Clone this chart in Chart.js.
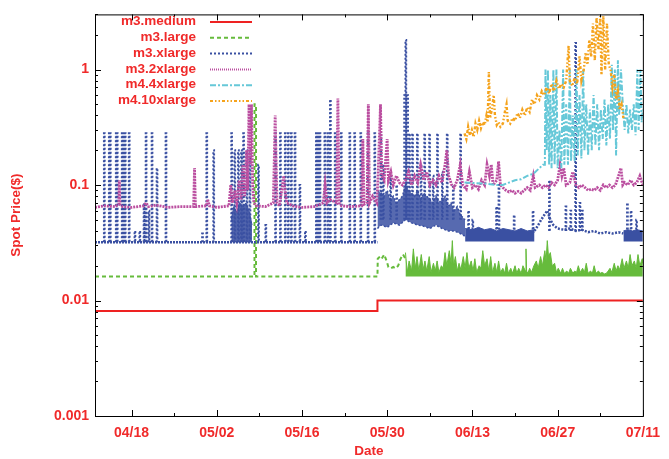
<!DOCTYPE html>
<html>
<head>
<meta charset="utf-8">
<script src="https://cdn.jsdelivr.net/npm/chart.js@4.4.1/dist/chart.umd.min.js"></script>
<style>
  html, body { margin: 0; padding: 0; background: #fff; }
  #wrap { width: 669px; height: 459px; }
</style>
</head>
<body>
<div id="wrap"><canvas id="spot" width="669" height="459"></canvas></div>
<script>
// x = days since 04/12, y = spot price in $
const dayTicks = [6, 20, 34, 48, 62, 76, 90];
const dateLabels = ['04/18', '05/02', '05/16', '05/30', '06/13', '06/27', '07/11'];
const weekMinors = [13, 27, 41, 55, 69, 83];
const priceTicks = [0.001, 0.01, 0.1, 1];
const priceLabels = ['0.001', '0.01', '0.1', '1'];
const seriesNames = ['m3.medium', 'm3.large', 'm3.xlarge', 'm3.2xlarge', 'm4.4xlarge', 'm4.10xlarge'];

// m3.medium
const medium = [[0, 0.0081], [46.4, 0.0081], [46.4, 0.01], [90, 0.01]];

// m3.large - flat line, one jump, then a busy stretch
const largeLine = [[0, 0.0161], [26.2, 0.0161], [26.2, 0.5], [26.45, 0.5], [26.45, 0.0161], [46.4, 0.0161],
  [46.45, 0.023], [46.8, 0.024], [47.1, 0.023], [47.5, 0.025], [47.9, 0.022], [48.2, 0.0195], [48.6, 0.019],
  [49.0, 0.0195], [49.4, 0.019], [49.8, 0.02], [50.2, 0.023], [50.6, 0.025], [51.0, 0.023]];
const largeTops = [[51.0, 0.026], [51.3, 0.0175], [51.6, 0.022], [52.0, 0.018], [52.3, 0.028], [52.6, 0.019],
  [52.9, 0.024], [53.2, 0.018], [53.6, 0.025], [53.9, 0.0185], [54.2, 0.022], [54.5, 0.018], [54.9, 0.024],
  [55.2, 0.0175], [55.6, 0.021], [55.9, 0.018], [56.2, 0.022], [56.5, 0.0175], [56.9, 0.02], [57.2, 0.019],
  [57.5, 0.026], [57.8, 0.02], [58.2, 0.027], [58.5, 0.021], [58.7, 0.033], [58.9, 0.02], [59.2, 0.024],
  [59.5, 0.018], [59.8, 0.021], [60.1, 0.0185], [60.5, 0.024], [60.8, 0.019], [61.1, 0.026], [61.4, 0.019],
  [61.8, 0.022], [62.1, 0.018], [62.4, 0.023], [62.7, 0.0175], [63.1, 0.02], [63.4, 0.019], [63.7, 0.027],
  [64.0, 0.02], [64.4, 0.023], [64.7, 0.018], [65.0, 0.024], [65.3, 0.0175], [65.7, 0.021], [66.0, 0.0175],
  [66.3, 0.022], [66.6, 0.0175], [67.0, 0.019], [67.3, 0.0172], [67.6, 0.021], [67.9, 0.0172], [68.3, 0.019],
  [68.6, 0.0172], [69.0, 0.02], [69.3, 0.0172], [69.6, 0.019], [70.0, 0.0172], [70.3, 0.02], [70.7, 0.018],
  [70.8, 0.028], [70.9, 0.018], [71.1, 0.0172], [71.4, 0.019], [71.7, 0.0175], [72.1, 0.02], [72.5, 0.022],
  [72.8, 0.019], [73.2, 0.024], [73.5, 0.02], [73.9, 0.027], [74.1, 0.022], [74.3, 0.033], [74.5, 0.024],
  [74.8, 0.026], [75.1, 0.02], [75.5, 0.021], [75.8, 0.0175], [76.1, 0.019], [76.5, 0.0172], [76.8, 0.019],
  [77.1, 0.0172], [77.5, 0.018], [77.8, 0.0172], [78.1, 0.019], [78.5, 0.0172], [78.8, 0.018], [79.1, 0.0175],
  [79.4, 0.02], [79.7, 0.0175], [80.1, 0.019], [80.4, 0.0175], [80.7, 0.021], [81.0, 0.0172], [81.4, 0.018],
  [81.7, 0.0172], [82.0, 0.02], [82.3, 0.0172], [82.7, 0.018], [83.0, 0.0172], [83.3, 0.0175], [83.7, 0.017],
  [84.0, 0.0172], [84.3, 0.018], [84.6, 0.019], [84.9, 0.0175], [85.3, 0.021], [85.6, 0.018], [85.9, 0.02],
  [86.2, 0.0185], [86.6, 0.023], [86.9, 0.019], [87.3, 0.022], [87.6, 0.019], [87.9, 0.025], [88.2, 0.02],
  [88.6, 0.022], [88.9, 0.019], [89.2, 0.025], [89.5, 0.02], [89.9, 0.023], [90, 0.021]];

// m3.xlarge
const xlargeBase = [[0, 0.032], [46.4, 0.032]];
const xlargeBurst = [[22.4, 0.05], [22.8, 0.065], [23.3, 0.058], [23.8, 0.07], [24.3, 0.064], [24.8, 0.07], [25.3, 0.06], [25.8, 0.045]];
const xlargeCloudLow = [[46.4, 0.042], [47, 0.045], [48, 0.043], [49, 0.047], [50, 0.045], [51, 0.05], [52, 0.047],
  [53, 0.045], [54, 0.044], [55, 0.042], [56, 0.045], [57, 0.042], [58, 0.04], [59, 0.04], [60, 0.038], [60.8, 0.036]];
const xlargeCloudHigh = [[46.4, 0.09], [47, 0.085], [47.5, 0.08], [48, 0.09], [48.5, 0.075], [49, 0.08], [49.5, 0.07],
  [50, 0.075], [50.5, 0.08], [51, 0.1], [51.5, 0.09], [52, 0.085], [52.5, 0.08], [53, 0.09], [53.5, 0.075],
  [54, 0.085], [54.5, 0.08], [55, 0.075], [55.5, 0.07], [56, 0.08], [56.5, 0.07], [57, 0.075], [57.5, 0.08],
  [58, 0.065], [58.5, 0.07], [59, 0.06], [59.5, 0.065], [60, 0.055], [60.8, 0.05]];
const xlargeBlock = [[60.8, 0.042], [62, 0.041], [63, 0.043], [64, 0.041], [65, 0.042], [66, 0.04], [67, 0.042],
  [68, 0.041], [69, 0.04], [70, 0.042], [71, 0.04], [72.2, 0.041]];
const xlargeTail = [[72.2, 0.04], [72.8, 0.045], [73.3, 0.05], [73.8, 0.055], [74.3, 0.06], [74.8, 0.05],
  [75.3, 0.045], [76, 0.042], [77, 0.041], [78, 0.042], [79, 0.04], [80, 0.041], [81, 0.039], [82, 0.04],
  [83, 0.038], [84, 0.039], [85, 0.038], [86, 0.039], [86.8, 0.038]];
const xlargeEnd = [[86.8, 0.04], [87.5, 0.041], [88.3, 0.04], [89, 0.041], [90, 0.04]];
// [day, peak, level it jumps from]
const xlargeSpikes = [
  [1.47, 0.28, 0.032], [2.29, 0.28, 0.032], [2.45, 0.28, 0.032], [3.43, 0.28, 0.032], [3.59, 0.28, 0.032],
  [4.41, 0.28, 0.032], [4.58, 0.28, 0.032], [4.9, 0.28, 0.032], [5.56, 0.28, 0.032], [6.5, 0.04, 0.032],
  [7.3, 0.04, 0.032], [8.0, 0.07, 0.032], [8.33, 0.28, 0.032], [8.8, 0.06, 0.032], [9.31, 0.28, 0.032],
  [10.13, 0.14, 0.032], [11.6, 0.28, 0.032], [17.6, 0.038, 0.032], [18.3, 0.28, 0.032], [19.44, 0.2, 0.032],
  [22.39, 0.28, 0.032], [22.9, 0.2, 0.032], [23.5, 0.2, 0.032], [24.0, 0.2, 0.032], [24.35, 0.28, 0.032],
  [24.9, 0.2, 0.032], [25.4, 0.2, 0.032], [26.8, 0.15, 0.032], [28.0, 0.045, 0.032], [29.6, 0.28, 0.032],
  [30.4, 0.28, 0.032], [31.2, 0.28, 0.032], [31.7, 0.28, 0.032], [32.2, 0.28, 0.032], [32.8, 0.28, 0.032],
  [33.6, 0.1, 0.032], [34.5, 0.04, 0.032], [36.3, 0.28, 0.032], [36.6, 0.28, 0.032], [36.9, 0.28, 0.032],
  [37.7, 0.28, 0.032], [38.2, 0.28, 0.032], [38.6, 0.55, 0.032], [39.4, 0.28, 0.032], [40.4, 0.28, 0.032],
  [41.8, 0.28, 0.032], [42.6, 0.28, 0.032], [43.6, 0.28, 0.032], [44.8, 0.28, 0.032], [45.9, 0.28, 0.032],
  [46.9, 0.28, 0.05], [47.3, 0.15, 0.05], [48.5, 0.12, 0.05], [49.5, 0.1, 0.05], [50.8, 0.6, 0.05],
  [51.0, 1.8, 0.05], [51.3, 0.6, 0.05], [51.6, 0.28, 0.05], [52.1, 0.28, 0.05], [52.9, 0.28, 0.05],
  [53.5, 0.15, 0.05], [54.1, 0.28, 0.05], [54.9, 0.28, 0.05], [55.5, 0.12, 0.05], [56.2, 0.28, 0.05],
  [57.0, 0.13, 0.05], [57.8, 0.28, 0.05], [58.8, 0.1, 0.05], [60.0, 0.28, 0.05],
  [61.3, 0.06, 0.038], [62.0, 0.05, 0.038], [65.9, 0.065, 0.038], [66.3, 0.1, 0.038], [68.8, 0.055, 0.038],
  [71.9, 0.06, 0.038], [74.6, 0.11, 0.04], [77.3, 0.065, 0.04], [78.1, 0.06, 0.04], [78.9, 1.7, 0.04],
  [79.6, 0.07, 0.04], [80.0, 0.06, 0.04], [87.4, 0.07, 0.038], [88.0, 0.06, 0.038], [88.9, 0.05, 0.038]];

// m3.2xlarge
const x2large = [[0, 0.064], [1.5, 0.066], [3.3, 0.065], [3.9, 0.068], [4.0, 0.11], [4.1, 0.068], [4.5, 0.065],
  [6, 0.064], [8, 0.066], [8.4, 0.07], [8.8, 0.065], [10, 0.067], [12, 0.064], [14, 0.065], [16.2, 0.065],
  [16.35, 0.14], [16.5, 0.065], [18.3, 0.066], [18.5, 0.075], [18.8, 0.066], [20, 0.064], [22, 0.066],
  [22.3, 0.1], [22.6, 0.07], [23.0, 0.09], [23.3, 0.07], [23.7, 0.11], [24.0, 0.075], [24.3, 0.15],
  [24.6, 0.08], [24.9, 0.2], [25.1, 0.09], [25.3, 0.5], [25.5, 0.15], [25.7, 0.5], [25.9, 0.1], [26.1, 0.07],
  [26.5, 0.066], [28, 0.065], [29.3, 0.07], [29.6, 0.4], [29.9, 0.07], [30.3, 0.066], [30.8, 0.1], [31.0, 0.12],
  [31.2, 0.09], [31.5, 0.07], [32.5, 0.066], [34, 0.064], [36, 0.065], [37.5, 0.07], [37.8, 0.1], [38.1, 0.07],
  [38.6, 0.075], [39.7, 0.07], [39.9, 0.56], [40.1, 0.07], [40.5, 0.066], [42, 0.065], [43.8, 0.066],
  [44.0, 0.25], [44.2, 0.068], [44.7, 0.07], [44.9, 0.5], [45.1, 0.07], [45.6, 0.08], [46.3, 0.07],
  [46.5, 0.12], [46.9, 0.5], [47.1, 0.12], [47.5, 0.11], [48.0, 0.25], [48.2, 0.11], [48.6, 0.13], [49, 0.1],
  [49.5, 0.12], [50, 0.105], [50.5, 0.1], [51, 0.11], [51.5, 0.13], [52, 0.1], [52.5, 0.12], [53, 0.105],
  [53.5, 0.15], [54, 0.11], [54.5, 0.13], [55, 0.1], [55.5, 0.11], [56, 0.1], [56.5, 0.12], [57, 0.105],
  [57.5, 0.15], [57.8, 0.2], [58.1, 0.12], [58.6, 0.1], [59, 0.095], [59.5, 0.11], [60, 0.15], [60.4, 0.1],
  [61, 0.092], [61.5, 0.13], [62, 0.095], [62.5, 0.1], [63, 0.092], [63.5, 0.11], [64, 0.1], [64.4, 0.15],
  [64.8, 0.12], [65.1, 0.15], [65.4, 0.1], [66, 0.11], [66.3, 0.16], [66.6, 0.1], [67, 0.095], [67.5, 0.09],
  [68, 0.087], [68.5, 0.09], [69, 0.085], [69.5, 0.088], [70, 0.085], [70.5, 0.09], [71, 0.095], [71.5, 0.09],
  [72, 0.12], [72.3, 0.095], [73, 0.1], [73.5, 0.095], [74, 0.1], [74.5, 0.095], [75, 0.105], [75.5, 0.1],
  [76, 0.11], [76.4, 0.15], [76.7, 0.12], [77, 0.14], [77.4, 0.1], [78, 0.105], [78.5, 0.13], [79, 0.1],
  [79.5, 0.095], [80, 0.1], [80.5, 0.095], [81, 0.09], [81.5, 0.092], [82, 0.09], [82.5, 0.095], [83, 0.09],
  [83.5, 0.1], [84, 0.095], [84.5, 0.1], [85, 0.095], [85.5, 0.1], [86, 0.12], [86.4, 0.14], [86.7, 0.1],
  [87, 0.105], [87.5, 0.1], [88, 0.11], [88.5, 0.1], [89, 0.105], [89.5, 0.12], [90, 0.1]];

// m4.4xlarge
const x4large = [[60.7, 0.105], [62, 0.104], [64, 0.103], [66, 0.1], [67, 0.1], [68, 0.105], [69, 0.11],
  [70, 0.112], [71, 0.12], [72, 0.125], [73, 0.14], [73.6, 0.15],
  [73.9, 0.15], [74.0, 1.0], [74.2, 0.2], [74.4, 1.0], [74.6, 0.15], [74.8, 0.6], [75.0, 0.14], [75.3, 1.0],
  [75.5, 0.15], [75.8, 1.0], [76.0, 0.14], [76.3, 0.3], [76.6, 0.14], [76.9, 1.0], [77.1, 0.15], [77.4, 0.5],
  [77.7, 0.15], [78.0, 1.0], [78.2, 0.16], [78.5, 0.4], [78.8, 0.16], [79.1, 1.0], [79.3, 0.18], [79.6, 0.6],
  [79.9, 0.17], [80.2, 1.0], [80.4, 0.2], [80.7, 0.5], [81.0, 0.18], [81.3, 0.45], [81.6, 0.2], [81.9, 0.6],
  [82.2, 0.22], [82.5, 0.5], [82.8, 0.2], [83.1, 0.45], [83.4, 0.25], [83.7, 0.55], [84.0, 0.22], [84.3, 0.5],
  [84.6, 0.25], [84.9, 1.1], [85.1, 0.3], [85.4, 1.0], [85.6, 0.18], [85.9, 1.2], [86.1, 0.4], [86.4, 1.0],
  [86.7, 0.5], [87.0, 0.3], [87.3, 0.5], [87.6, 0.28], [87.9, 0.45], [88.2, 0.3], [88.5, 0.5], [88.8, 0.27],
  [89.1, 1.0], [89.3, 0.3], [89.6, 1.0], [89.8, 0.35], [90, 0.45]];

// m4.10xlarge
const x10large = [[60.7, 0.28], [61.0, 0.25], [61.3, 0.32], [61.6, 0.27], [61.9, 0.3], [62.2, 0.26], [62.5, 0.34],
  [62.8, 0.3], [63.1, 0.36], [63.4, 0.31], [63.7, 0.35], [64.0, 0.33], [64.3, 0.4], [64.5, 0.35], [64.7, 0.95],
  [64.9, 0.38], [65.2, 0.45], [65.5, 0.6], [65.7, 0.4], [66.0, 0.33], [66.3, 0.35], [66.6, 0.32], [67.0, 0.34],
  [67.4, 0.45], [67.6, 0.5], [67.8, 0.36], [68.2, 0.34], [68.6, 0.38], [69.0, 0.36], [69.4, 0.42], [69.8, 0.38],
  [70.2, 0.45], [70.6, 0.4], [71.0, 0.47], [71.4, 0.43], [71.8, 0.55], [72.2, 0.5], [72.6, 0.6], [73.0, 0.55],
  [73.4, 0.65], [73.8, 0.6], [74.2, 0.7], [74.6, 0.62], [75.0, 0.75], [75.4, 0.65], [75.8, 0.8], [76.2, 0.68],
  [76.6, 0.75], [77.0, 0.7], [77.4, 0.8], [77.8, 1.6], [78.0, 0.8], [78.4, 0.72], [78.8, 0.85], [79.2, 0.75],
  [79.6, 1.3], [79.9, 0.8], [80.3, 1.0], [80.6, 1.4], [80.9, 1.1], [81.2, 1.8], [81.5, 1.3], [81.8, 2.5],
  [82.1, 1.2], [82.4, 2.8], [82.7, 1.5], [83.0, 2.9], [83.2, 0.9], [83.5, 2.9], [83.8, 1.0], [84.1, 2.5],
  [84.4, 1.1], [84.7, 1.0], [85.0, 0.7], [85.3, 0.9], [85.6, 0.55], [85.9, 0.65], [86.2, 0.45], [86.5, 0.5],
  [86.8, 0.38]];

const RED = '#ee2222';
const GREEN = '#66bb3c';
const BLUE = '#3a50a2';
const MAGENTA = '#bb4fa0';
const CYAN = '#66c8d8';
const ORANGE = '#f5a31c';
const TEXT = '#f02a2a';
const FONT = '"Liberation Sans", Arial, sans-serif';

const pts = arr => arr.map(([x, y]) => ({ x, y }));

// each spike goes up and comes back down, with a break before the next one
function spikePath(list) {
    const out = [];
    list.forEach(([d, top, base]) => {
        out.push({ x: d, y: base }, { x: d, y: top }, { x: d + 0.12, y: top }, { x: d + 0.12, y: base }, { x: d + 0.12, y: null });
    });
    return out;
}

const lineStyles = [
    { color: RED, dash: [], width: 2 },
    { color: GREEN, dash: [4, 3], width: 2 },
    { color: BLUE, dash: [2, 2], width: 2 },
    { color: MAGENTA, dash: [1, 1], width: 2 },
    { color: CYAN, dash: [6, 2, 2, 2], width: 2 },
    { color: ORANGE, dash: [3, 2, 1.5, 2, 1.5, 2], width: 2 },
];

function line(data, style, order, extra) {
    return Object.assign({
        data: data,
        borderColor: style.color,
        borderDash: style.dash,
        borderWidth: style.width,
        pointRadius: 0,
        tension: 0,
        fill: false,
        spanGaps: false,
        order: order,
    }, extra || {});
}

const datasets = [
    line(pts(medium), lineStyles[0], 5),
    line(pts(largeLine), lineStyles[1], 4),
    line(pts(largeTops), { color: GREEN, dash: [], width: 1 }, 4, { fill: { value: 0.0161 }, backgroundColor: GREEN }),
    line(pts(xlargeBase), { color: BLUE, dash: [2, 1], width: 2.5 }, 3),
    line(pts(xlargeBurst), { color: BLUE, dash: [], width: 1 }, 3, { fill: { value: 0.032 }, backgroundColor: 'rgba(58,80,162,0.88)' }),
    line(pts(xlargeCloudLow), { color: BLUE, dash: [2, 2], width: 1.5 }, 3),
    line(pts(xlargeCloudHigh), { color: BLUE, dash: [2, 2], width: 1.5 }, 3, { fill: '-1', backgroundColor: 'rgba(58,80,162,0.85)' }),
    line(pts(xlargeBlock), { color: BLUE, dash: [], width: 1 }, 3, { fill: { value: 0.0325 }, backgroundColor: BLUE }),
    line(pts(xlargeTail), { color: BLUE, dash: [2, 1.5], width: 2.5 }, 3),
    line(pts(xlargeEnd), { color: BLUE, dash: [], width: 1 }, 3, { fill: { value: 0.0325 }, backgroundColor: BLUE }),
    line(spikePath(xlargeSpikes), lineStyles[2], 3),
    line(pts(x2large), { color: MAGENTA, dash: [2, 1], width: 2.8 }, 2),
    line(pts(x4large), lineStyles[4], 1),
    line(pts(x10large), { color: ORANGE, dash: [3, 2, 1.5, 2, 1.5, 2], width: 2.4 }, 0),
];

// gnuplot-like frame with inward ticks on all four sides
const framePlugin = {
    id: 'frame',
    afterDatasetsDraw(chart) {
        const { ctx, chartArea: a, scales } = chart;
        const xs = scales.x, ys = scales.y;
        ctx.save();
        ctx.strokeStyle = '#000';
        ctx.lineWidth = 1;
        ctx.setLineDash([]);
        ctx.beginPath();
        const tick = (x1, y1, x2, y2) => { ctx.moveTo(x1, y1); ctx.lineTo(x2, y2); };
        dayTicks.forEach(d => {
            const px = Math.round(xs.getPixelForValue(d)) + 0.5;
            tick(px, a.bottom, px, a.bottom - 6);
            tick(px, a.top, px, a.top + 6);
        });
        weekMinors.forEach(d => {
            const px = Math.round(xs.getPixelForValue(d)) + 0.5;
            tick(px, a.bottom, px, a.bottom - 3);
            tick(px, a.top, px, a.top + 3);
        });
        priceTicks.forEach(p => {
            for (let k = 1; k <= 9; k++) {
                const v = p * k;
                if (v > ys.max) break;
                const py = Math.round(ys.getPixelForValue(v)) + 0.5;
                const len = k === 1 ? 6 : 3;
                tick(a.left, py, a.left + len, py);
                tick(a.right, py, a.right - len, py);
            }
        });
        ctx.stroke();
        ctx.strokeRect(a.left + 0.5, a.top + 0.5, a.right - a.left, a.bottom - a.top);

        // key, top left inside the frame
        ctx.font = 'bold 13.5px ' + FONT;
        ctx.textAlign = 'right';
        ctx.textBaseline = 'middle';
        seriesNames.forEach((name, i) => {
            const y = 21.5 + i * 15.8;
            ctx.fillStyle = TEXT;
            ctx.fillText(name, 196, y);
            const s = lineStyles[i];
            ctx.strokeStyle = s.color;
            ctx.lineWidth = s.width;
            ctx.setLineDash(s.dash);
            ctx.beginPath();
            ctx.moveTo(210, y + 0.5);
            ctx.lineTo(252, y + 0.5);
            ctx.stroke();
        });
        ctx.restore();
    }
};

const tickFont = { family: FONT, size: 14, weight: 'bold' };

new Chart(document.getElementById('spot').getContext('2d'), {
    type: 'line',
    data: { datasets: datasets },
    options: {
        responsive: false,
        animation: false,
        events: [],
        layout: { padding: { top: 12, right: 21, left: 0, bottom: 0 } },
        plugins: { legend: { display: false }, tooltip: { enabled: false } },
        scales: {
            x: {
                type: 'linear',
                min: 0,
                max: 90,
                grid: { display: false, drawTicks: false },
                border: { display: false },
                afterBuildTicks: s => { s.ticks = dayTicks.map(v => ({ value: v })); },
                afterFit: s => { s.height = 43; },
                ticks: {
                    color: TEXT,
                    font: tickFont,
                    padding: 9,
                    maxRotation: 0,
                    autoSkip: false,
                    callback: v => dateLabels[dayTicks.indexOf(v)],
                },
                title: { display: true, text: 'Date', color: TEXT, font: { family: FONT, size: 13.5, weight: 'bold' }, padding: 0 },
            },
            y: {
                type: 'logarithmic',
                min: 0.001,
                max: 3,
                grid: { display: false, drawTicks: false },
                border: { display: false },
                afterBuildTicks: s => { s.ticks = priceTicks.map(v => ({ value: v })); },
                afterFit: s => { s.width = 95; },
                ticks: {
                    color: TEXT,
                    font: tickFont,
                    padding: 6,
                    autoSkip: false,
                    callback: v => priceLabels[priceTicks.indexOf(v)],
                },
                title: { display: true, text: 'Spot Price($)', color: TEXT, font: { family: FONT, size: 13.5, weight: 'bold' }, padding: { top: 8, bottom: 0 } },
            },
        },
    },
    plugins: [framePlugin],
});
</script>
</body>
</html>
